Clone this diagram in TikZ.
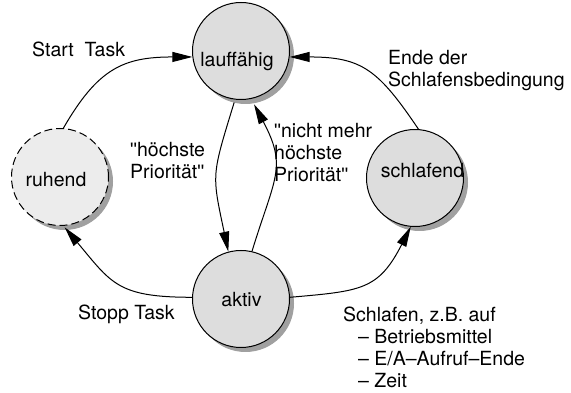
\documentclass[tikz,border=0pt]{standalone}
\usepackage{fontspec}
\setmainfont{TeX Gyre Heros}
\newfontfamily\qfont{Liberation Sans}
\usetikzlibrary{arrows.meta,shadows}
\definecolor{nodefill}{RGB}{221,221,221}
\definecolor{restfill}{RGB}{236,236,236}
\definecolor{shadowgray}{RGB}{160,160,160}
\newcommand\mylines[1]{\begin{tabular}[t]{@{}l@{}}#1\end{tabular}}
\newcommand\dq{{\qfont\char34\relax}}
\begin{document}
\begin{tikzpicture}[x=1pt,y=1pt,
  font=\fontsize{19.5}{22}\selectfont,
  state/.style={circle, draw, line width=1pt, fill=nodefill, minimum size=97pt, inner sep=0pt,
    drop shadow={shadow xshift=4.5pt, shadow yshift=-4.5pt, fill=shadowgray, opacity=1}},
  rest/.style={state, fill=restfill, dash pattern=on 8pt off 4pt},
  txt/.style={inner sep=0pt, anchor=base},
  lbl/.style={inner sep=0pt, anchor=base west},
  conn/.style={line width=1pt, -{Triangle[length=20pt,width=10pt]}}
]
\useasboundingbox (0,0) rectangle (571,393);
\node[state] (lauf) at (241,342) {};
\node[rest] (ruhend) at (60,216) {};
\node[state] (schlaf) at (415,215) {};
\node[state] (aktiv) at (241,94) {};

\draw[conn] (ruhend.86) to[out=60,in=180,looseness=1.2] (lauf.187);
\draw[conn, shorten <=3pt] (lauf.-97) to[out=-107,in=102,looseness=1.35] (aktiv.105);
\draw[conn, shorten >=6pt] (aktiv.77) to[out=73,in=-62,looseness=1.3] (lauf.-78);
\draw[conn] (schlaf.86) to[out=124,in=0,looseness=1.25] (lauf.-7);
\draw[conn, shorten >=2pt] (aktiv.178) to[out=180,in=-50,looseness=1.3] (ruhend.-86);
\draw[conn] (aktiv.2) to[out=5,in=-117,looseness=1.3] (schlaf.-95);

\node[txt] (tlauf) at (237,326) {lauffähig};
\node[txt] (truhend) at (56,206.3) {ruhend};
\node[txt] (tschlaf) at (422.5,215) {schlafend};
\node[txt] (taktiv) at (241.5,86) {aktiv};
\node[lbl] (lstart) at (32,336) {Start\ \ Task};
\node[lbl] (lhoch) at (130,236.3) {\mylines{\dq höchste\\Priorität\dq}};
\node[lbl] (lnicht) at (274,255) {\mylines{\dq nicht mehr\\höchste\\Priorität\dq}};
\node[lbl] (lende) at (388,328) {\mylines{Ende der\\Schlafensbedingung}};
\node[lbl] (lstopp) at (78,73) {Stopp Task};
\node[lbl] (lschlaf) at (343,71.3) {\mylines{Schlafen, z.B. auf\\\hspace*{15pt}– Betriebsmittel\\\hspace*{15pt}– E/A–Aufruf–Ende\\\hspace*{15pt}– Zeit}};
\end{tikzpicture}
\end{document}
